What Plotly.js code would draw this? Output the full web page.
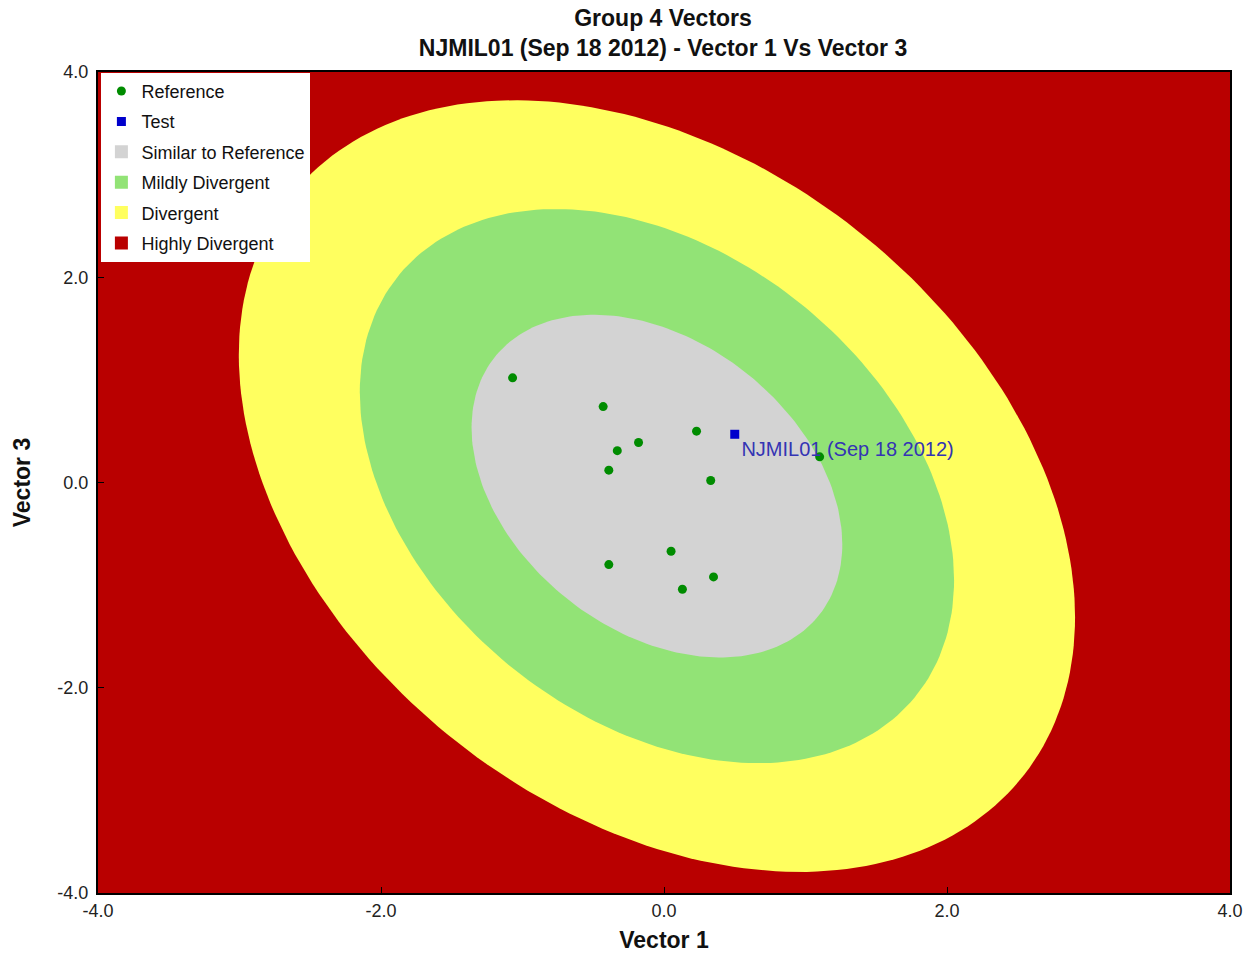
<!DOCTYPE html>
<html>
<head>
<meta charset="utf-8">
<script src="https://cdn.plot.ly/plotly-3.0.1.min.js"></script>
<style>html,body{margin:0;padding:0;background:#fff;}#chart{width:1251px;height:955px;}</style>
</head>
<body>
<div id="chart"></div>
<script>
// ---- data ----
const refX = [-1.07, -0.43, 0.23, -0.18, -0.33, -0.39, 0.33, 1.10, 0.05, -0.39, 0.35, 0.13];
const refY = [1.02, 0.74, 0.50, 0.39, 0.31, 0.12, 0.02, 0.25, -0.67, -0.80, -0.92, -1.04];
const testX = [0.50];
const testY = [0.47];
const testLabels = ['NJMIL01 (Sep 18 2012)'];

const regionNames = ['Similar to Reference', 'Mildly Divergent', 'Divergent', 'Highly Divergent'];
const regionColors = ['#D3D3D3', '#92E376', '#FFFF5F', '#B90000'];
// ellipse boundaries: half extent along Vector 1, half extent along Vector 3
const regionHalfX = [1.31, 2.10, 2.955];
const regionHalfY = [1.67, 2.70, 3.76];
const regionCenter = [-0.05, -0.035];
const regionCorr = -0.34;

const tickVals = [-4, -2, 0, 2, 4];
const tickText = ['-4.0', '-2.0', '0.0', '2.0', '4.0'];

// ---- build ellipse outlines ----
function ellipse(hx, hy) {
  const xs = [], ys = [];
  const s = Math.sqrt(1 - regionCorr * regionCorr);
  for (let i = 0; i <= 240; i++) {
    const t = 2 * Math.PI * i / 240;
    xs.push(regionCenter[0] + hx * Math.cos(t));
    ys.push(regionCenter[1] + hy * (regionCorr * Math.cos(t) + s * Math.sin(t)));
  }
  return {xs, ys};
}

const FONT = 'Liberation Sans, Arial, sans-serif';
const traces = [];
for (let k = 2; k >= 0; k--) {
  const e = ellipse(regionHalfX[k], regionHalfY[k]);
  traces.push({
    type: 'scatter', mode: 'lines', x: e.xs, y: e.ys,
    fill: 'toself', fillcolor: regionColors[k],
    line: {width: 0, color: regionColors[k]},
    showlegend: false, hoverinfo: 'skip'
  });
}
traces.push({
  type: 'scatter', mode: 'markers', name: 'Reference', legendgroup: 'g1',
  x: refX, y: refY,
  marker: {symbol: 'circle', size: 9, color: '#008C00'}
});
traces.push({
  type: 'scatter', mode: 'markers+text', name: 'Test', legendgroup: 'g2',
  x: testX, y: testY, text: testLabels, textposition: 'bottom right',
  textfont: {family: FONT, size: 20, color: '#3434B4'},
  marker: {symbol: 'square', size: 9, color: '#0000CC'}
});
for (let k = 0; k < 4; k++) {
  traces.push({
    type: 'scatter', mode: 'markers', name: regionNames[k], legendgroup: 'r' + k,
    x: [null], y: [null],
    marker: {symbol: 'square', size: 13, color: regionColors[k]}
  });
}

const axisCommon = {
  range: [-4, 4], tickvals: tickVals, ticktext: tickText,
  ticks: 'inside', ticklen: 6, tickwidth: 1, tickcolor: '#000',
  showline: true, mirror: true, linecolor: '#000', linewidth: 2,
  showgrid: false, zeroline: false, fixedrange: true,
  tickfont: {family: FONT, size: 18, color: '#222'}
};

const layout = {
  width: 1251, height: 955,
  margin: {l: 98, r: 21, t: 72, b: 62},
  paper_bgcolor: '#ffffff',
  plot_bgcolor: '#B90000',
  font: {family: FONT, color: '#000'},
  title: {
    text: 'Group 4 Vectors<br>NJMIL01 (Sep 18 2012) - Vector 1 Vs Vector 3',
    font: {family: FONT, size: 23, weight: 'bold', color: '#111'},
    x: 0.53, xref: 'container', xanchor: 'center',
    y: 0.973, yref: 'container', yanchor: 'top'
  },
  xaxis: Object.assign({}, axisCommon, {
    title: {text: 'Vector 1', font: {family: FONT, size: 23, weight: 'bold', color: '#111'}, standoff: 12}
  }),
  yaxis: Object.assign({}, axisCommon, {
    ticklabelstandoff: 4,
    title: {text: 'Vector 3', font: {family: FONT, size: 23, weight: 'bold', color: '#111'}, standoff: 20}
  }),
  legend: {
    x: 0.003, y: 0.999, xanchor: 'left', yanchor: 'top',
    bgcolor: '#ffffff', borderwidth: 0,
    font: {family: FONT, size: 18, color: '#111'},
    tracegroupgap: 4, traceorder: 'grouped'
  },
  showlegend: true
};

Plotly.newPlot('chart', traces, layout, {displayModeBar: false, staticPlot: true});
</script>
</body>
</html>
